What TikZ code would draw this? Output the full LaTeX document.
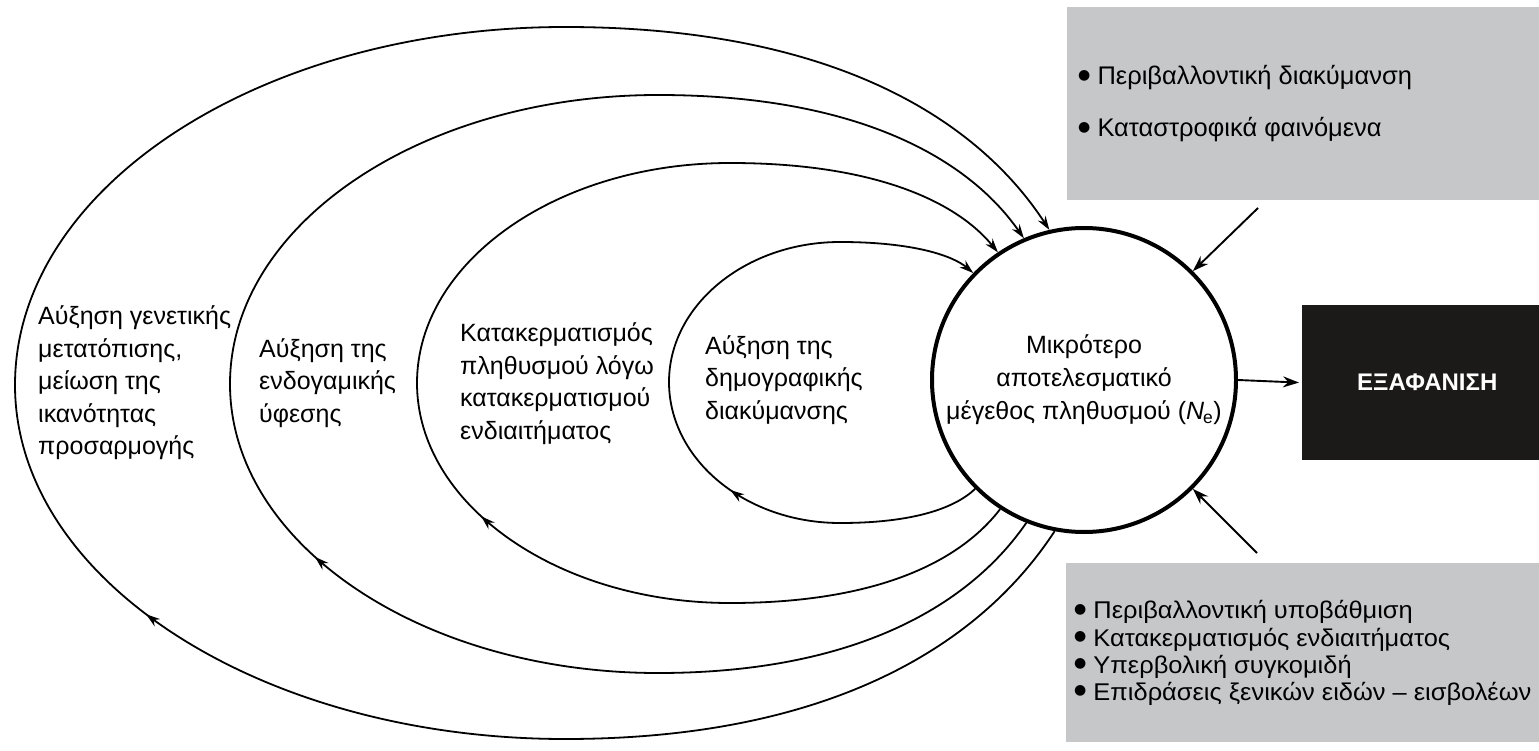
\documentclass[tikz,border=0pt]{standalone}
\usepackage{fontspec}
\setmainfont{Liberation Sans}
\newfontfamily\boxfont[FakeStretch=1.05]{Liberation Sans}
\newfontfamily\dvfont{DejaVu Sans}
\usetikzlibrary{arrows.meta,decorations.markings}
\definecolor{boxgray}{HTML}{C6C7C9}
\definecolor{boxblack}{HTML}{1C1A19}
\newcommand\bul{\raisebox{5.5pt}{\dvfont\fontsize{14}{14}\selectfont ●}}
\begin{document}
\begin{tikzpicture}[x=1pt,y=-1pt,
  lab/.style={font=\fontsize{25}{32.5}\selectfont, align=left, anchor=west, inner sep=0pt},
  boxtxt/.style={align=left, anchor=west, inner sep=0pt},
  ring/.style={line width=1.8pt, -{Stealth[length=14pt,width=9pt]}},
  midarrow/.style={decoration={markings, mark=at position #1 with {\arrow{Stealth[length=14pt,width=9pt]}}}, postaction={decorate}},
  arr/.style={line width=1.9pt, -{Stealth[length=16pt,width=11pt]}}]
\useasboundingbox (0,0) rectangle (1539,751);

% boxes
\node[fill=boxgray, minimum width=472pt, minimum height=193pt, anchor=north west, inner sep=0pt] (tb) at (1067,7) {};
\node[fill=boxgray, minimum width=473pt, minimum height=179pt, anchor=north west, inner sep=0pt] (bb) at (1066,563) {};
\node[fill=boxblack, minimum width=250pt, minimum height=155pt, anchor=north west, inner sep=0pt,
      text=white, font=\bfseries\fontsize{24}{28}\selectfont] (ext) at (1302,305) {ΕΞΑΦΑΝΙΣΗ};

\node[boxtxt, font=\fontsize{25.5}{52}\selectfont] (tbt) at (1078,104)
  {\bul\ Περιβαλλοντική διακύμανση\\\bul\ Καταστροφικά φαινόμενα};
\node[boxtxt, font=\boxfont\fontsize{24.2}{27.1}\selectfont] (bbt) at (1074,653)
  {\bul\ Περιβαλλοντική υποβάθμιση\\\bul\ Κατακερματισμός ενδιαιτήματος\\\bul\ Υπερβολική συγκομιδή\\\bul\ Επιδράσεις ξενικών ειδών – εισβολέων};

% central circle
\node[draw, circle, line width=4pt, minimum size=304pt, inner sep=0pt, align=center,
      font=\fontsize{25}{33}\selectfont] (c) at (1084,380)
  {Μικρότερο\\αποτελεσματικό\\μέγεθος πληθυσμού (\textit{N}\kern-1pt\textsubscript{e})};

% texts in rings
\node[lab] (t4) at (38,383) {Αύξηση γενετικής\\μετατόπισης,\\μείωση της\\ικανότητας\\προσαρμογής};
\node[lab] (t3) at (259,383) {Αύξηση της\\ενδογαμικής\\ύφεσης};
\node[lab] (t2) at (460,383.5) {Κατακερματισμός\\πληθυσμού λόγω\\κατακερματισμού\\ενδιαιτήματος};
\node[lab] (t1) at (705,380) {Αύξηση της\\δημογραφικής\\διακύμανσης};

% rings
\draw[ring, midarrow=0.393] (c.259) .. controls +(-73,112) and +(268,0) .. (565,739)
  .. controls +(-304,0) and +(0,195) .. (15,385)
  .. controls +(0,-198) and +(-304,0) .. (565,27)
  .. controls +(266,0) and +(-73,-112) .. (c.103);
\draw[ring, midarrow=0.40] (c.248) .. controls +(-55,80) and +(201,0) .. (658,673)
  .. controls +(-236,0) and +(0,160) .. (230,384)
  .. controls +(0,-160) and +(-236,0) .. (658,95)
  .. controls +(201,0) and +(-55,-79) .. (c.113);
\draw[ring, midarrow=0.395] (c.237) .. controls +(-40,52) and +(148,0) .. (730,603)
  .. controls +(-173,0) and +(0,121) .. (417,383)
  .. controls +(0,-121) and +(-173,0) .. (730,163)
  .. controls +(148,0) and +(-40,-49) .. (c.124);
\draw[ring, midarrow=0.335] (c.225) .. controls +(-20,19) and +(74,0) .. (840,523)
  .. controls +(-94,0) and +(0,78) .. (669,382)
  .. controls +(0,-77) and +(-94,0) .. (840,242)
  .. controls +(74,0) and +(-20,-17) .. (c.136);

% external arrows
\coordinate (ta) at (1258,208);
\coordinate (ba) at (1257,553);
\draw[arr] (ta) -- (c.45);
\draw[arr] (ba) -- (c.-45);
\draw[arr, shorten >=3pt] (c.east) -- (ext.west);
\end{tikzpicture}
\end{document}
